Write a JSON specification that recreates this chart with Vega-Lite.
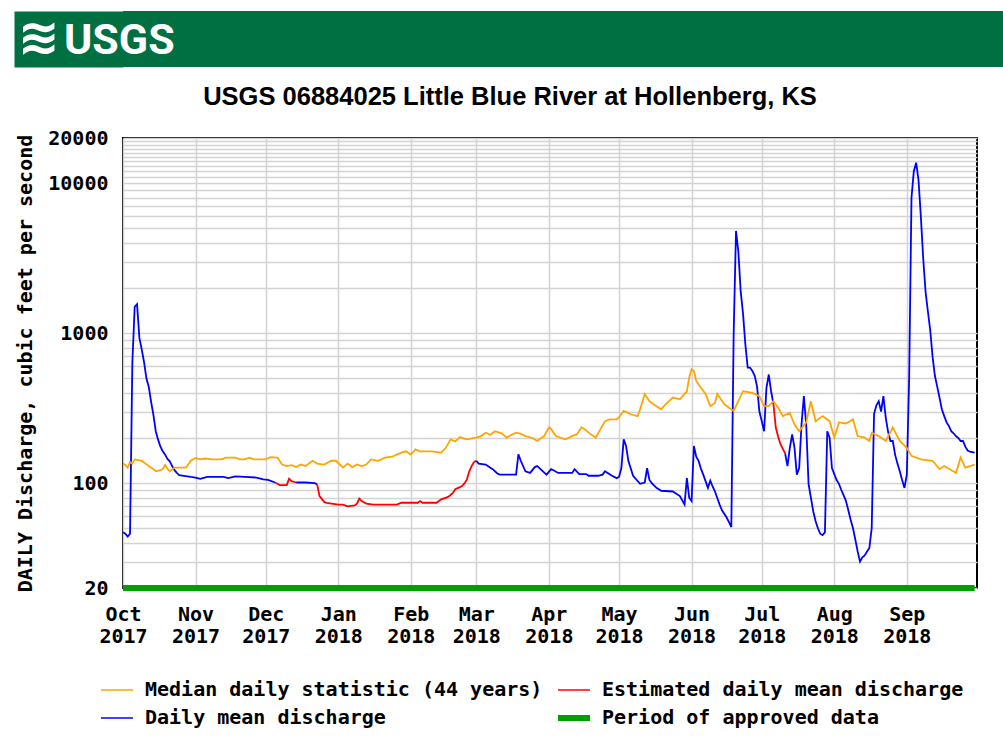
{
  "$schema": "https://vega.github.io/schema/vega-lite/v6.json",
  "background": "white",
  "padding": {"left": 14, "top": 11, "right": 0, "bottom": 0},
  "spacing": 16,
  "config": {
    "font": "DejaVu Sans Mono",
    "view": {"stroke": null}
  },
  "vconcat": [
    {
      "width": 880,
      "height": 56,
      "view": {"fill": "#006f41", "stroke": null},
      "data": {"values": [{"t": "USGS", "w": "≋"}]},
      "layer": [
        {
          "mark": {"type": "text", "align": "left", "baseline": "middle", "x": -105, "font": "DejaVu Sans", "fontSize": 50, "fontWeight": "bold", "color": "white"},
          "encoding": {
            "text": {"field": "w"},
            "y": {"datum": 0.5, "type": "quantitative", "scale": {"domain": [0, 1]},
                  "axis": {"orient": "left", "offset": 54.5, "domainWidth": 109, "domainColor": "#006f41", "domainCap": "butt", "domainOpacity": 1, "labels": false, "ticks": false, "grid": false, "title": null}}
          }
        },
        {
          "mark": {"type": "text", "align": "left", "baseline": "middle", "x": -59, "font": "Roboto", "fontSize": 43, "fontWeight": "bold", "color": "white"},
          "encoding": {
            "text": {"field": "t"},
            "y": {"datum": 0.47, "type": "quantitative"}
          }
        }
      ]
    },
    {
      "width": 854,
      "height": 450,
      "view": {"stroke": "#000000", "strokeWidth": 2},
      "title": {"text": "USGS 06884025 Little Blue River at Hollenberg, KS", "font": "Liberation Sans", "fontSize": 25.5, "fontWeight": "bold", "color": "#000000", "anchor": "middle", "frame": "group", "dx": -40, "offset": 18},
      "data": {"values": [
        {"d":"2017-10-01","v":47,"s":"D","g":"D1"},{"d":"2017-10-02","v":46,"s":"D","g":"D1"},{"d":"2017-10-03","v":44,"s":"D","g":"D1"},{"d":"2017-10-04","v":46,"s":"D","g":"D1"},{"d":"2017-10-05","v":640,"s":"D","g":"D1"},{"d":"2017-10-06","v":1500,"s":"D","g":"D1"},{"d":"2017-10-07","v":1560,"s":"D","g":"D1"},{"d":"2017-10-08","v":930,"s":"D","g":"D1"},{"d":"2017-10-09","v":780,"s":"D","g":"D1"},{"d":"2017-10-10","v":640,"s":"D","g":"D1"},{"d":"2017-10-11","v":500,"s":"D","g":"D1"},{"d":"2017-10-12","v":440,"s":"D","g":"D1"},{"d":"2017-10-13","v":350,"s":"D","g":"D1"},{"d":"2017-10-14","v":285,"s":"D","g":"D1"},{"d":"2017-10-15","v":222,"s":"D","g":"D1"},{"d":"2017-10-16","v":195,"s":"D","g":"D1"},{"d":"2017-10-17","v":175,"s":"D","g":"D1"},{"d":"2017-10-18","v":163,"s":"D","g":"D1"},{"d":"2017-10-19","v":155,"s":"D","g":"D1"},{"d":"2017-10-20","v":145,"s":"D","g":"D1"},{"d":"2017-10-21","v":140,"s":"D","g":"D1"},{"d":"2017-10-22","v":130,"s":"D","g":"D1"},{"d":"2017-10-23","v":122,"s":"D","g":"D1"},{"d":"2017-10-24","v":117,"s":"D","g":"D1"},{"d":"2017-10-25","v":113,"s":"D","g":"D1"},{"d":"2017-10-27","v":112,"s":"D","g":"D1"},{"d":"2017-10-30","v":110,"s":"D","g":"D1"},{"d":"2017-11-01","v":109,"s":"D","g":"D1"},{"d":"2017-11-03","v":107,"s":"D","g":"D1"},{"d":"2017-11-06","v":110,"s":"D","g":"D1"},{"d":"2017-11-10","v":110,"s":"D","g":"D1"},{"d":"2017-11-13","v":110,"s":"D","g":"D1"},{"d":"2017-11-15","v":108,"s":"D","g":"D1"},{"d":"2017-11-18","v":111,"s":"D","g":"D1"},{"d":"2017-11-22","v":110,"s":"D","g":"D1"},{"d":"2017-11-27","v":109,"s":"D","g":"D1"},{"d":"2017-11-30","v":106,"s":"D","g":"D1"},{"d":"2017-12-02","v":105,"s":"D","g":"D1"},{"d":"2017-12-05","v":101,"s":"D","g":"D1"},
        {"d":"2017-12-05","v":101,"s":"E","g":"E1"},{"d":"2017-12-07","v":97,"s":"E","g":"E1"},{"d":"2017-12-10","v":97,"s":"E","g":"E1"},{"d":"2017-12-11","v":107,"s":"E","g":"E1"},{"d":"2017-12-12","v":103,"s":"E","g":"E1"},{"d":"2017-12-14","v":101,"s":"E","g":"E1"},
        {"d":"2017-12-14","v":101,"s":"D","g":"D2"},{"d":"2017-12-18","v":101,"s":"D","g":"D2"},{"d":"2017-12-22","v":100,"s":"D","g":"D2"},{"d":"2017-12-23","v":98,"s":"D","g":"D2"},
        {"d":"2017-12-23","v":98,"s":"E","g":"E2"},{"d":"2017-12-24","v":82,"s":"E","g":"E2"},{"d":"2017-12-26","v":75,"s":"E","g":"E2"},{"d":"2017-12-27","v":74,"s":"E","g":"E2"},{"d":"2018-01-01","v":72,"s":"E","g":"E2"},{"d":"2018-01-03","v":72,"s":"E","g":"E2"},{"d":"2018-01-05","v":70,"s":"E","g":"E2"},{"d":"2018-01-08","v":71,"s":"E","g":"E2"},{"d":"2018-01-09","v":73,"s":"E","g":"E2"},{"d":"2018-01-10","v":79,"s":"E","g":"E2"},{"d":"2018-01-11","v":76,"s":"E","g":"E2"},{"d":"2018-01-13","v":73,"s":"E","g":"E2"},{"d":"2018-01-16","v":72,"s":"E","g":"E2"},{"d":"2018-01-26","v":72,"s":"E","g":"E2"},{"d":"2018-01-28","v":74,"s":"E","g":"E2"},{"d":"2018-02-04","v":74,"s":"E","g":"E2"},{"d":"2018-02-05","v":76,"s":"E","g":"E2"},{"d":"2018-02-06","v":74,"s":"E","g":"E2"},{"d":"2018-02-12","v":74,"s":"E","g":"E2"},{"d":"2018-02-14","v":78,"s":"E","g":"E2"},{"d":"2018-02-17","v":81,"s":"E","g":"E2"},{"d":"2018-02-19","v":86,"s":"E","g":"E2"},{"d":"2018-02-20","v":91,"s":"E","g":"E2"},{"d":"2018-02-22","v":94,"s":"E","g":"E2"},{"d":"2018-02-23","v":96,"s":"E","g":"E2"},{"d":"2018-02-24","v":100,"s":"E","g":"E2"},{"d":"2018-02-25","v":106,"s":"E","g":"E2"},{"d":"2018-02-26","v":120,"s":"E","g":"E2"},{"d":"2018-02-27","v":130,"s":"E","g":"E2"},{"d":"2018-02-28","v":138,"s":"E","g":"E2"},{"d":"2018-03-01","v":141,"s":"E","g":"E2"},
        {"d":"2018-03-01","v":141,"s":"D","g":"D3"},{"d":"2018-03-02","v":135,"s":"D","g":"D3"},{"d":"2018-03-05","v":133,"s":"D","g":"D3"},{"d":"2018-03-08","v":124,"s":"D","g":"D3"},{"d":"2018-03-10","v":116,"s":"D","g":"D3"},{"d":"2018-03-11","v":114,"s":"D","g":"D3"},{"d":"2018-03-18","v":114,"s":"D","g":"D3"},{"d":"2018-03-19","v":156,"s":"D","g":"D3"},{"d":"2018-03-20","v":141,"s":"D","g":"D3"},{"d":"2018-03-22","v":120,"s":"D","g":"D3"},{"d":"2018-03-24","v":117,"s":"D","g":"D3"},{"d":"2018-03-26","v":128,"s":"D","g":"D3"},{"d":"2018-03-27","v":130,"s":"D","g":"D3"},{"d":"2018-03-28","v":126,"s":"D","g":"D3"},{"d":"2018-03-31","v":114,"s":"D","g":"D3"},{"d":"2018-04-02","v":124,"s":"D","g":"D3"},{"d":"2018-04-03","v":122,"s":"D","g":"D3"},{"d":"2018-04-05","v":117,"s":"D","g":"D3"},{"d":"2018-04-11","v":117,"s":"D","g":"D3"},{"d":"2018-04-12","v":124,"s":"D","g":"D3"},{"d":"2018-04-14","v":115,"s":"D","g":"D3"},{"d":"2018-04-17","v":115,"s":"D","g":"D3"},{"d":"2018-04-18","v":112,"s":"D","g":"D3"},{"d":"2018-04-22","v":112,"s":"D","g":"D3"},{"d":"2018-04-24","v":114,"s":"D","g":"D3"},{"d":"2018-04-25","v":120,"s":"D","g":"D3"},{"d":"2018-04-28","v":112,"s":"D","g":"D3"},{"d":"2018-04-30","v":108,"s":"D","g":"D3"},{"d":"2018-05-01","v":110,"s":"D","g":"D3"},{"d":"2018-05-02","v":126,"s":"D","g":"D3"},{"d":"2018-05-03","v":196,"s":"D","g":"D3"},{"d":"2018-05-04","v":177,"s":"D","g":"D3"},{"d":"2018-05-05","v":141,"s":"D","g":"D3"},{"d":"2018-05-07","v":112,"s":"D","g":"D3"},{"d":"2018-05-10","v":99,"s":"D","g":"D3"},{"d":"2018-05-12","v":101,"s":"D","g":"D3"},{"d":"2018-05-13","v":126,"s":"D","g":"D3"},{"d":"2018-05-14","v":105,"s":"D","g":"D3"},{"d":"2018-05-15","v":100,"s":"D","g":"D3"},{"d":"2018-05-17","v":93,"s":"D","g":"D3"},{"d":"2018-05-19","v":89,"s":"D","g":"D3"},{"d":"2018-05-24","v":88,"s":"D","g":"D3"},{"d":"2018-05-27","v":82,"s":"D","g":"D3"},{"d":"2018-05-29","v":72,"s":"D","g":"D3"},{"d":"2018-05-30","v":108,"s":"D","g":"D3"},{"d":"2018-05-31","v":80,"s":"D","g":"D3"},{"d":"2018-06-01","v":76,"s":"D","g":"D3"},{"d":"2018-06-02","v":177,"s":"D","g":"D3"},{"d":"2018-06-03","v":150,"s":"D","g":"D3"},{"d":"2018-06-04","v":141,"s":"D","g":"D3"},{"d":"2018-06-05","v":125,"s":"D","g":"D3"},{"d":"2018-06-06","v":114,"s":"D","g":"D3"},{"d":"2018-06-08","v":93,"s":"D","g":"D3"},{"d":"2018-06-09","v":104,"s":"D","g":"D3"},{"d":"2018-06-10","v":95,"s":"D","g":"D3"},{"d":"2018-06-11","v":88,"s":"D","g":"D3"},{"d":"2018-06-13","v":72,"s":"D","g":"D3"},{"d":"2018-06-14","v":66,"s":"D","g":"D3"},{"d":"2018-06-16","v":59,"s":"D","g":"D3"},{"d":"2018-06-17","v":55,"s":"D","g":"D3"},{"d":"2018-06-18","v":51,"s":"D","g":"D3"},{"d":"2018-06-19","v":1000,"s":"D","g":"D3"},{"d":"2018-06-20","v":4800,"s":"D","g":"D3"},{"d":"2018-06-21","v":3500,"s":"D","g":"D3"},{"d":"2018-06-22","v":1900,"s":"D","g":"D3"},{"d":"2018-06-23","v":1350,"s":"D","g":"D3"},{"d":"2018-06-24","v":840,"s":"D","g":"D3"},{"d":"2018-06-25","v":590,"s":"D","g":"D3"},{"d":"2018-06-26","v":590,"s":"D","g":"D3"},{"d":"2018-06-27","v":560,"s":"D","g":"D3"},{"d":"2018-06-28","v":520,"s":"D","g":"D3"},{"d":"2018-06-29","v":440,"s":"D","g":"D3"},{"d":"2018-06-30","v":300,"s":"D","g":"D3"},{"d":"2018-07-01","v":259,"s":"D","g":"D3"},{"d":"2018-07-02","v":222,"s":"D","g":"D3"},{"d":"2018-07-03","v":430,"s":"D","g":"D3"},{"d":"2018-07-04","v":530,"s":"D","g":"D3"},{"d":"2018-07-05","v":410,"s":"D","g":"D3"},{"d":"2018-07-06","v":336,"s":"D","g":"D3"},
        {"d":"2018-07-06","v":336,"s":"E","g":"E3"},{"d":"2018-07-07","v":235,"s":"E","g":"E3"},{"d":"2018-07-08","v":205,"s":"E","g":"E3"},{"d":"2018-07-09","v":182,"s":"E","g":"E3"},{"d":"2018-07-10","v":170,"s":"E","g":"E3"},{"d":"2018-07-11","v":158,"s":"E","g":"E3"},
        {"d":"2018-07-11","v":158,"s":"D","g":"D4"},{"d":"2018-07-12","v":130,"s":"D","g":"D4"},{"d":"2018-07-13","v":172,"s":"D","g":"D4"},{"d":"2018-07-14","v":211,"s":"D","g":"D4"},{"d":"2018-07-15","v":172,"s":"D","g":"D4"},{"d":"2018-07-16","v":114,"s":"D","g":"D4"},{"d":"2018-07-17","v":126,"s":"D","g":"D4"},{"d":"2018-07-18","v":246,"s":"D","g":"D4"},{"d":"2018-07-19","v":380,"s":"D","g":"D4"},{"d":"2018-07-20","v":246,"s":"D","g":"D4"},{"d":"2018-07-21","v":99,"s":"D","g":"D4"},{"d":"2018-07-22","v":80,"s":"D","g":"D4"},{"d":"2018-07-23","v":65,"s":"D","g":"D4"},{"d":"2018-07-24","v":56,"s":"D","g":"D4"},{"d":"2018-07-25","v":50,"s":"D","g":"D4"},{"d":"2018-07-26","v":46,"s":"D","g":"D4"},{"d":"2018-07-27","v":45,"s":"D","g":"D4"},{"d":"2018-07-28","v":47,"s":"D","g":"D4"},{"d":"2018-07-29","v":222,"s":"D","g":"D4"},{"d":"2018-07-30","v":201,"s":"D","g":"D4"},{"d":"2018-07-31","v":126,"s":"D","g":"D4"},{"d":"2018-08-01","v":115,"s":"D","g":"D4"},{"d":"2018-08-02","v":105,"s":"D","g":"D4"},{"d":"2018-08-03","v":99,"s":"D","g":"D4"},{"d":"2018-08-04","v":90,"s":"D","g":"D4"},{"d":"2018-08-05","v":83,"s":"D","g":"D4"},{"d":"2018-08-06","v":76,"s":"D","g":"D4"},{"d":"2018-08-07","v":66,"s":"D","g":"D4"},{"d":"2018-08-08","v":57,"s":"D","g":"D4"},{"d":"2018-08-09","v":50,"s":"D","g":"D4"},{"d":"2018-08-10","v":42,"s":"D","g":"D4"},{"d":"2018-08-11","v":35,"s":"D","g":"D4"},{"d":"2018-08-12","v":30,"s":"D","g":"D4"},{"d":"2018-08-13","v":32,"s":"D","g":"D4"},{"d":"2018-08-14","v":33,"s":"D","g":"D4"},{"d":"2018-08-15","v":35,"s":"D","g":"D4"},{"d":"2018-08-16","v":37,"s":"D","g":"D4"},{"d":"2018-08-17","v":50,"s":"D","g":"D4"},{"d":"2018-08-18","v":290,"s":"D","g":"D4"},{"d":"2018-08-19","v":330,"s":"D","g":"D4"},{"d":"2018-08-20","v":352,"s":"D","g":"D4"},{"d":"2018-08-21","v":300,"s":"D","g":"D4"},{"d":"2018-08-22","v":380,"s":"D","g":"D4"},{"d":"2018-08-23","v":273,"s":"D","g":"D4"},{"d":"2018-08-24","v":220,"s":"D","g":"D4"},{"d":"2018-08-25","v":191,"s":"D","g":"D4"},{"d":"2018-08-26","v":191,"s":"D","g":"D4"},{"d":"2018-08-27","v":155,"s":"D","g":"D4"},{"d":"2018-08-28","v":135,"s":"D","g":"D4"},{"d":"2018-08-29","v":120,"s":"D","g":"D4"},{"d":"2018-08-30","v":105,"s":"D","g":"D4"},{"d":"2018-08-31","v":93,"s":"D","g":"D4"},{"d":"2018-09-01","v":114,"s":"D","g":"D4"},{"d":"2018-09-02","v":500,"s":"D","g":"D4"},{"d":"2018-09-03","v":8000,"s":"D","g":"D4"},{"d":"2018-09-04","v":12000,"s":"D","g":"D4"},{"d":"2018-09-05","v":13700,"s":"D","g":"D4"},{"d":"2018-09-06","v":10500,"s":"D","g":"D4"},{"d":"2018-09-07","v":6000,"s":"D","g":"D4"},{"d":"2018-09-08","v":3170,"s":"D","g":"D4"},{"d":"2018-09-09","v":1900,"s":"D","g":"D4"},{"d":"2018-09-10","v":1400,"s":"D","g":"D4"},{"d":"2018-09-11","v":1050,"s":"D","g":"D4"},{"d":"2018-09-12","v":700,"s":"D","g":"D4"},{"d":"2018-09-13","v":520,"s":"D","g":"D4"},{"d":"2018-09-14","v":440,"s":"D","g":"D4"},{"d":"2018-09-15","v":370,"s":"D","g":"D4"},{"d":"2018-09-16","v":310,"s":"D","g":"D4"},{"d":"2018-09-17","v":280,"s":"D","g":"D4"},{"d":"2018-09-18","v":254,"s":"D","g":"D4"},{"d":"2018-09-19","v":240,"s":"D","g":"D4"},{"d":"2018-09-20","v":222,"s":"D","g":"D4"},{"d":"2018-09-21","v":215,"s":"D","g":"D4"},{"d":"2018-09-22","v":206,"s":"D","g":"D4"},{"d":"2018-09-23","v":200,"s":"D","g":"D4"},{"d":"2018-09-24","v":191,"s":"D","g":"D4"},{"d":"2018-09-25","v":191,"s":"D","g":"D4"},{"d":"2018-09-26","v":175,"s":"D","g":"D4"},{"d":"2018-09-27","v":165,"s":"D","g":"D4"},{"d":"2018-09-28","v":162,"s":"D","g":"D4"},{"d":"2018-09-30","v":160,"s":"D","g":"D4"},
        {"d":"2017-10-01","v":135,"s":"M","g":"M"},{"d":"2017-10-02","v":132,"s":"M","g":"M"},{"d":"2017-10-03","v":127,"s":"M","g":"M"},{"d":"2017-10-04","v":138,"s":"M","g":"M"},{"d":"2017-10-05","v":135,"s":"M","g":"M"},{"d":"2017-10-06","v":144,"s":"M","g":"M"},{"d":"2017-10-09","v":141,"s":"M","g":"M"},{"d":"2017-10-12","v":130,"s":"M","g":"M"},{"d":"2017-10-14","v":124,"s":"M","g":"M"},{"d":"2017-10-15","v":120,"s":"M","g":"M"},{"d":"2017-10-17","v":122,"s":"M","g":"M"},{"d":"2017-10-18","v":124,"s":"M","g":"M"},{"d":"2017-10-19","v":132,"s":"M","g":"M"},{"d":"2017-10-20","v":125,"s":"M","g":"M"},{"d":"2017-10-21","v":120,"s":"M","g":"M"},{"d":"2017-10-23","v":127,"s":"M","g":"M"},{"d":"2017-10-28","v":127,"s":"M","g":"M"},{"d":"2017-10-30","v":141,"s":"M","g":"M"},{"d":"2017-11-01","v":147,"s":"M","g":"M"},{"d":"2017-11-03","v":144,"s":"M","g":"M"},{"d":"2017-11-05","v":146,"s":"M","g":"M"},{"d":"2017-11-08","v":144,"s":"M","g":"M"},{"d":"2017-11-12","v":144,"s":"M","g":"M"},{"d":"2017-11-14","v":148,"s":"M","g":"M"},{"d":"2017-11-18","v":148,"s":"M","g":"M"},{"d":"2017-11-20","v":144,"s":"M","g":"M"},{"d":"2017-11-22","v":144,"s":"M","g":"M"},{"d":"2017-11-24","v":148,"s":"M","g":"M"},{"d":"2017-11-26","v":144,"s":"M","g":"M"},{"d":"2017-12-01","v":144,"s":"M","g":"M"},{"d":"2017-12-03","v":149,"s":"M","g":"M"},{"d":"2017-12-06","v":148,"s":"M","g":"M"},{"d":"2017-12-08","v":133,"s":"M","g":"M"},{"d":"2017-12-10","v":130,"s":"M","g":"M"},{"d":"2017-12-12","v":132,"s":"M","g":"M"},{"d":"2017-12-14","v":128,"s":"M","g":"M"},{"d":"2017-12-16","v":133,"s":"M","g":"M"},{"d":"2017-12-18","v":130,"s":"M","g":"M"},{"d":"2017-12-21","v":141,"s":"M","g":"M"},{"d":"2017-12-23","v":135,"s":"M","g":"M"},{"d":"2017-12-26","v":133,"s":"M","g":"M"},{"d":"2017-12-29","v":141,"s":"M","g":"M"},{"d":"2017-12-31","v":141,"s":"M","g":"M"},{"d":"2018-01-03","v":127,"s":"M","g":"M"},{"d":"2018-01-05","v":135,"s":"M","g":"M"},{"d":"2018-01-07","v":128,"s":"M","g":"M"},{"d":"2018-01-09","v":133,"s":"M","g":"M"},{"d":"2018-01-11","v":130,"s":"M","g":"M"},{"d":"2018-01-13","v":133,"s":"M","g":"M"},{"d":"2018-01-15","v":144,"s":"M","g":"M"},{"d":"2018-01-18","v":141,"s":"M","g":"M"},{"d":"2018-01-21","v":148,"s":"M","g":"M"},{"d":"2018-01-24","v":150,"s":"M","g":"M"},{"d":"2018-01-26","v":155,"s":"M","g":"M"},{"d":"2018-01-28","v":160,"s":"M","g":"M"},{"d":"2018-01-30","v":163,"s":"M","g":"M"},{"d":"2018-02-01","v":155,"s":"M","g":"M"},{"d":"2018-02-03","v":168,"s":"M","g":"M"},{"d":"2018-02-05","v":163,"s":"M","g":"M"},{"d":"2018-02-10","v":163,"s":"M","g":"M"},{"d":"2018-02-14","v":160,"s":"M","g":"M"},{"d":"2018-02-16","v":172,"s":"M","g":"M"},{"d":"2018-02-18","v":196,"s":"M","g":"M"},{"d":"2018-02-20","v":190,"s":"M","g":"M"},{"d":"2018-02-22","v":203,"s":"M","g":"M"},{"d":"2018-02-25","v":196,"s":"M","g":"M"},{"d":"2018-03-01","v":201,"s":"M","g":"M"},{"d":"2018-03-03","v":206,"s":"M","g":"M"},{"d":"2018-03-05","v":217,"s":"M","g":"M"},{"d":"2018-03-07","v":210,"s":"M","g":"M"},{"d":"2018-03-09","v":222,"s":"M","g":"M"},{"d":"2018-03-12","v":214,"s":"M","g":"M"},{"d":"2018-03-14","v":201,"s":"M","g":"M"},{"d":"2018-03-16","v":210,"s":"M","g":"M"},{"d":"2018-03-18","v":217,"s":"M","g":"M"},{"d":"2018-03-20","v":213,"s":"M","g":"M"},{"d":"2018-03-22","v":206,"s":"M","g":"M"},{"d":"2018-03-25","v":200,"s":"M","g":"M"},{"d":"2018-03-27","v":191,"s":"M","g":"M"},{"d":"2018-03-30","v":206,"s":"M","g":"M"},{"d":"2018-04-01","v":235,"s":"M","g":"M"},{"d":"2018-04-02","v":230,"s":"M","g":"M"},{"d":"2018-04-04","v":206,"s":"M","g":"M"},{"d":"2018-04-08","v":196,"s":"M","g":"M"},{"d":"2018-04-11","v":206,"s":"M","g":"M"},{"d":"2018-04-13","v":212,"s":"M","g":"M"},{"d":"2018-04-15","v":236,"s":"M","g":"M"},{"d":"2018-04-17","v":225,"s":"M","g":"M"},{"d":"2018-04-18","v":217,"s":"M","g":"M"},{"d":"2018-04-21","v":201,"s":"M","g":"M"},{"d":"2018-04-23","v":228,"s":"M","g":"M"},{"d":"2018-04-25","v":259,"s":"M","g":"M"},{"d":"2018-04-27","v":266,"s":"M","g":"M"},{"d":"2018-04-30","v":266,"s":"M","g":"M"},{"d":"2018-05-01","v":275,"s":"M","g":"M"},{"d":"2018-05-03","v":303,"s":"M","g":"M"},{"d":"2018-05-06","v":288,"s":"M","g":"M"},{"d":"2018-05-09","v":280,"s":"M","g":"M"},{"d":"2018-05-10","v":311,"s":"M","g":"M"},{"d":"2018-05-12","v":393,"s":"M","g":"M"},{"d":"2018-05-14","v":352,"s":"M","g":"M"},{"d":"2018-05-17","v":326,"s":"M","g":"M"},{"d":"2018-05-19","v":311,"s":"M","g":"M"},{"d":"2018-05-21","v":336,"s":"M","g":"M"},{"d":"2018-05-24","v":372,"s":"M","g":"M"},{"d":"2018-05-27","v":362,"s":"M","g":"M"},{"d":"2018-05-30","v":410,"s":"M","g":"M"},{"d":"2018-05-31","v":506,"s":"M","g":"M"},{"d":"2018-06-01","v":574,"s":"M","g":"M"},{"d":"2018-06-02","v":560,"s":"M","g":"M"},{"d":"2018-06-03","v":480,"s":"M","g":"M"},{"d":"2018-06-04","v":455,"s":"M","g":"M"},{"d":"2018-06-07","v":393,"s":"M","g":"M"},{"d":"2018-06-09","v":326,"s":"M","g":"M"},{"d":"2018-06-11","v":342,"s":"M","g":"M"},{"d":"2018-06-12","v":393,"s":"M","g":"M"},{"d":"2018-06-15","v":336,"s":"M","g":"M"},{"d":"2018-06-17","v":318,"s":"M","g":"M"},{"d":"2018-06-19","v":303,"s":"M","g":"M"},{"d":"2018-06-21","v":352,"s":"M","g":"M"},{"d":"2018-06-23","v":410,"s":"M","g":"M"},{"d":"2018-06-27","v":400,"s":"M","g":"M"},{"d":"2018-06-30","v":380,"s":"M","g":"M"},{"d":"2018-07-02","v":326,"s":"M","g":"M"},{"d":"2018-07-04","v":326,"s":"M","g":"M"},{"d":"2018-07-06","v":352,"s":"M","g":"M"},{"d":"2018-07-08","v":318,"s":"M","g":"M"},{"d":"2018-07-10","v":280,"s":"M","g":"M"},{"d":"2018-07-13","v":294,"s":"M","g":"M"},{"d":"2018-07-15","v":246,"s":"M","g":"M"},{"d":"2018-07-17","v":222,"s":"M","g":"M"},{"d":"2018-07-20","v":254,"s":"M","g":"M"},{"d":"2018-07-22","v":352,"s":"M","g":"M"},{"d":"2018-07-24","v":259,"s":"M","g":"M"},{"d":"2018-07-27","v":280,"s":"M","g":"M"},{"d":"2018-07-30","v":259,"s":"M","g":"M"},{"d":"2018-08-01","v":201,"s":"M","g":"M"},{"d":"2018-08-03","v":254,"s":"M","g":"M"},{"d":"2018-08-06","v":250,"s":"M","g":"M"},{"d":"2018-08-09","v":266,"s":"M","g":"M"},{"d":"2018-08-11","v":206,"s":"M","g":"M"},{"d":"2018-08-14","v":201,"s":"M","g":"M"},{"d":"2018-08-16","v":191,"s":"M","g":"M"},{"d":"2018-08-17","v":217,"s":"M","g":"M"},{"d":"2018-08-20","v":206,"s":"M","g":"M"},{"d":"2018-08-23","v":191,"s":"M","g":"M"},{"d":"2018-08-26","v":235,"s":"M","g":"M"},{"d":"2018-08-29","v":191,"s":"M","g":"M"},{"d":"2018-09-01","v":172,"s":"M","g":"M"},{"d":"2018-09-03","v":152,"s":"M","g":"M"},{"d":"2018-09-07","v":144,"s":"M","g":"M"},{"d":"2018-09-12","v":141,"s":"M","g":"M"},{"d":"2018-09-15","v":124,"s":"M","g":"M"},{"d":"2018-09-17","v":130,"s":"M","g":"M"},{"d":"2018-09-22","v":117,"s":"M","g":"M"},{"d":"2018-09-24","v":148,"s":"M","g":"M"},{"d":"2018-09-26","v":127,"s":"M","g":"M"},{"d":"2018-09-30","v":133,"s":"M","g":"M"},
        {"d":"2017-10-01","v":20,"s":"P","g":"P"},{"d":"2018-09-30","v":20,"s":"P","g":"P"}
      ]},
      "mark": {"type": "line", "interpolate": "linear", "clip": false},
      "encoding": {
        "x": {
          "field": "d", "type": "temporal",
          "scale": {"type": "utc", "domain": [{"year": 2017, "month": 10, "date": 1, "utc": true}, {"year": 2018, "month": 10, "date": 1, "utc": true}]},
          "axis": {
            "title": null,
            "values": [
              {"year": 2017, "month": 10, "date": 1, "utc": true},
              {"year": 2017, "month": 11, "date": 1, "utc": true},
              {"year": 2017, "month": 12, "date": 1, "utc": true},
              {"year": 2018, "month": 1, "date": 1, "utc": true},
              {"year": 2018, "month": 2, "date": 1, "utc": true},
              {"year": 2018, "month": 3, "date": 1, "utc": true},
              {"year": 2018, "month": 4, "date": 1, "utc": true},
              {"year": 2018, "month": 5, "date": 1, "utc": true},
              {"year": 2018, "month": 6, "date": 1, "utc": true},
              {"year": 2018, "month": 7, "date": 1, "utc": true},
              {"year": 2018, "month": 8, "date": 1, "utc": true},
              {"year": 2018, "month": 9, "date": 1, "utc": true}
            ],
            "labelExpr": "[utcFormat(datum.value, '%b'), utcFormat(datum.value, '%Y')]",
            "labelFont": "DejaVu Sans Mono", "labelFontSize": 20, "labelFontWeight": "bold", "labelColor": "#000000",
            "labelLineHeight": 22, "labelPadding": 16, "labelFlush": false, "labelOverlap": false, "labelBound": false,
            "ticks": false, "domain": false,
            "grid": true, "gridColor": "#d3d3d3", "gridWidth": 1.5
          }
        },
        "y": {
          "field": "v", "type": "quantitative",
          "scale": {"type": "log", "domain": [20, 20000], "nice": false},
          "axis": {
            "title": "DAILY Discharge, cubic feet per second",
            "titleFont": "DejaVu Sans Mono", "titleFontSize": 20, "titleFontWeight": "bold", "titleColor": "#000000", "titlePadding": 12,
            "values": [20,30,40,50,60,70,80,90,100,200,300,400,500,600,700,800,900,1000,2000,3000,4000,5000,6000,7000,8000,9000,10000,11000,12000,13000,14000,15000,16000,17000,18000,19000,20000],
            "format": "d",
            "labelExpr": "indexof([20,100,1000,10000,20000], datum.value) >= 0 ? datum.label : ''",
            "labelFont": "DejaVu Sans Mono", "labelFontSize": 20, "labelFontWeight": "bold", "labelColor": "#000000",
            "labelPadding": 15, "labelFlush": false, "labelOverlap": false, "labelBound": false,
            "ticks": false, "domain": false,
            "grid": true, "gridColor": "#d3d3d3", "gridWidth": 1.5
          }
        },
        "color": {
          "field": "s", "type": "nominal",
          "scale": {"domain": ["M", "E", "D", "P"], "range": ["#ffa500", "#ff0000", "#0000ff", "#00a000"]},
          "legend": {
            "orient": "none", "legendX": -16, "legendY": 669, "columns": 2, "direction": "horizontal",
            "title": null, "padding": 0, "labelLimit": 0,
            "labelExpr": "datum.label === 'M' ? 'Median daily statistic (44 years)' : datum.label === 'E' ? 'Estimated daily mean discharge' : datum.label === 'D' ? 'Daily mean discharge' : 'Period of approved data'",
            "labelFont": "DejaVu Sans Mono", "labelFontSize": 20, "labelFontWeight": "bold", "labelColor": "#000000",
            "symbolType": "M-2,0H2", "symbolSize": 256, "symbolStrokeWidth": 2, "labelOffset": 18,
            "rowPadding": 6, "columnPadding": 3,
            "encode": {"symbols": {"update": {"strokeWidth": {"signal": "datum.value === 'P' ? 6 : 1.5"}}}}
          }
        },
        "detail": {"field": "g", "type": "nominal"},
        "strokeWidth": {"condition": {"test": "datum.s === 'P'", "value": 6}, "value": 1.8}
      }
    }
  ]
}
